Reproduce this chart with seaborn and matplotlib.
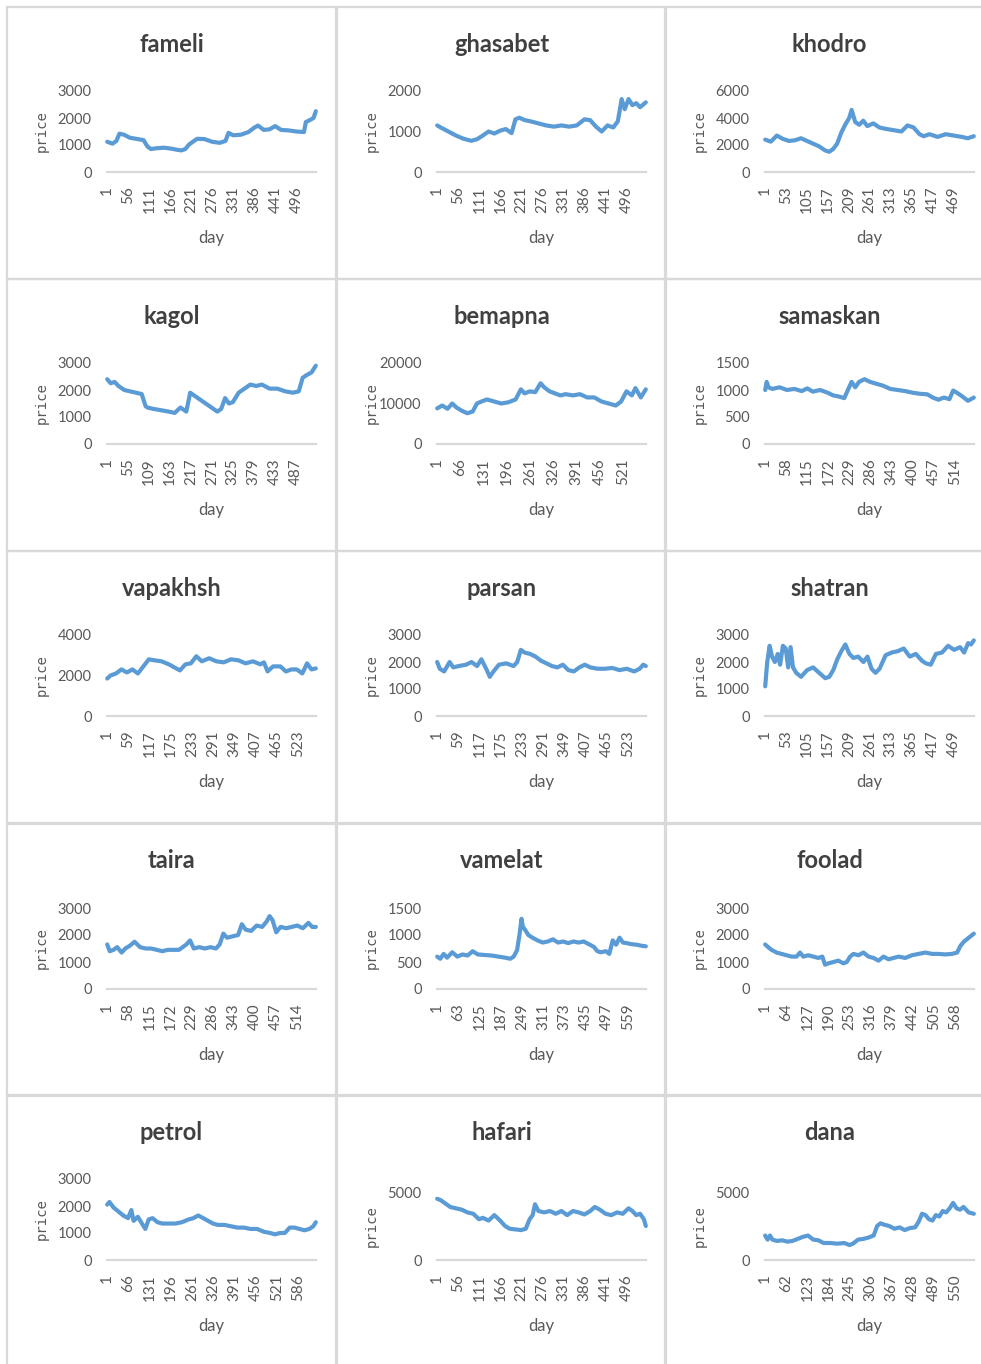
import numpy as np
import pandas as pd
import matplotlib
matplotlib.use("Agg")
import matplotlib.pyplot as plt
import seaborn as sns
from matplotlib.patches import Rectangle

sns.set_style("white")
plt.rcParams['font.family'] = ['Lato', 'DejaVu Sans']

# ---------------- data ----------------
names = ["fameli", "ghasabet", "khodro", "kagol", "bemapna", "samaskan",
         "vapakhsh", "parsan", "shatran", "taira", "vamelat", "foolad",
         "petrol", "hafari", "dana"]
n_days = [546, 545, 520, 539, 584, 566, 572, 572, 519, 565, 612, 625, 640, 545, 605]
x_step = [55, 55, 52, 54, 65, 57, 58, 58, 52, 57, 62, 63, 65, 55, 61]
y_max = [3000, 2000, 6000, 3000, 20000, 1500, 4000, 3000, 3000, 3000, 1500, 3000, 3000, 5000, 5000]
y_step = [1000, 1000, 2000, 1000, 10000, 500, 2000, 1000, 1000, 1000, 500, 1000, 1000, 5000, 5000]

fameli_day = [1, 15, 25, 33, 45, 60, 80, 96, 106, 115, 130, 150, 170, 185, 195, 205, 215, 236, 255, 275,
              295, 310, 318, 330, 350, 370, 385, 395, 410, 425, 440, 455, 475, 495, 515, 520, 530, 540, 546]
fameli_price = [1120, 1050, 1150, 1420, 1380, 1270, 1220, 1180, 950, 850, 880, 900, 860, 820, 800, 850, 1020,
                1230, 1220, 1120, 1080, 1150, 1450, 1360, 1380, 1480, 1640, 1720, 1560, 1580, 1700, 1560,
                1540, 1500, 1480, 1850, 1920, 2000, 2250]

ghasabet_day = [1, 10, 30, 50, 70, 90, 105, 120, 135, 150, 165, 180, 195, 205, 215, 230, 245, 265, 285,
                305, 325, 345, 365, 385, 400, 415, 430, 445, 460, 472, 482, 490, 500, 510, 520, 530, 545]
ghasabet_price = [1150, 1100, 1000, 900, 820, 770, 810, 900, 1000, 950, 1020, 1060, 960, 1300, 1340, 1280,
                  1250, 1200, 1150, 1120, 1150, 1120, 1150, 1300, 1280, 1120, 1000, 1150, 1100, 1250, 1800,
                  1550, 1800, 1650, 1700, 1600, 1720]

khodro_day = [1, 15, 30, 45, 60, 75, 90, 105, 120, 135, 150, 160, 170, 180, 190, 200, 210, 216, 225, 235,
              245, 255, 270, 285, 300, 320, 340, 355, 370, 385, 395, 410, 430, 450, 470, 490, 505, 520]
khodro_price = [2400, 2250, 2700, 2450, 2300, 2350, 2500, 2300, 2100, 1900, 1600, 1500, 1700, 2100, 2900,
                3500, 4000, 4600, 3700, 3500, 3800, 3400, 3600, 3300, 3200, 3100, 3000, 3450, 3300, 2800,
                2650, 2800, 2600, 2800, 2700, 2600, 2500, 2650]

kagol_day = [1, 10, 20, 30, 45, 60, 75, 90, 100, 105, 120, 140, 160, 175, 190, 205, 215, 225, 240, 255,
             270, 285, 295, 305, 315, 325, 340, 355, 370, 385, 400, 420, 440, 460, 480, 495, 505, 515, 528, 539]
kagol_price = [2400, 2250, 2300, 2150, 2000, 1950, 1900, 1850, 1400, 1350, 1300, 1250, 1200, 1150, 1350,
               1200, 1900, 1800, 1650, 1500, 1350, 1200, 1300, 1700, 1500, 1550, 1900, 2050, 2200, 2150,
               2200, 2050, 2050, 1950, 1900, 1950, 2450, 2550, 2650, 2900]

bemapna_day = [1, 15, 30, 43, 55, 70, 85, 100, 112, 125, 140, 160, 180, 200, 220, 235, 245, 260, 275, 290,
               300, 315, 330, 345, 360, 380, 400, 420, 440, 460, 480, 500, 515, 530, 545, 555, 570, 584]
bemapna_price = [8800, 9500, 8700, 10000, 9000, 8200, 7600, 8000, 10000, 10500, 11000, 10500, 10000, 10300,
                 11000, 13500, 12500, 13000, 12800, 15000, 14000, 13000, 12500, 12000, 12300, 12000, 12300,
                 11500, 11500, 10500, 10000, 9500, 10500, 13000, 12000, 13800, 11500, 13500]

samaskan_day = [1, 5, 10, 20, 40, 60, 80, 100, 115, 130, 150, 170, 185, 200, 215, 225, 235, 245, 255, 270,
                285, 300, 320, 340, 360, 380, 400, 420, 440, 455, 470, 485, 500, 510, 520, 535, 550, 566]
samaskan_price = [1000, 1150, 1050, 1020, 1050, 1000, 1020, 980, 1030, 970, 1000, 950, 900, 880, 850, 1000,
                  1150, 1050, 1150, 1200, 1150, 1120, 1080, 1020, 1000, 980, 950, 930, 920, 860, 820, 860,
                  830, 990, 950, 880, 800, 860]

vapakhsh_day = [1, 10, 25, 40, 55, 70, 85, 100, 115, 130, 150, 170, 185, 200, 215, 230, 245, 260, 280, 300,
                320, 340, 360, 380, 400, 420, 430, 440, 455, 475, 490, 505, 520, 535, 548, 560, 572]
vapakhsh_price = [1850, 2000, 2100, 2300, 2150, 2300, 2100, 2450, 2800, 2750, 2700, 2550, 2400, 2250, 2550,
                  2600, 2950, 2700, 2850, 2700, 2650, 2800, 2750, 2600, 2700, 2550, 2650, 2200, 2450, 2450,
                  2200, 2300, 2300, 2100, 2600, 2300, 2350]

parsan_day = [1, 8, 20, 35, 45, 60, 80, 95, 110, 122, 135, 145, 155, 170, 190, 210, 220, 230, 240, 255,
              270, 285, 300, 315, 330, 345, 360, 375, 390, 405, 420, 440, 460, 480, 500, 520, 540, 555, 565, 572]
parsan_price = [2000, 1750, 1650, 2000, 1800, 1850, 1900, 2000, 1850, 2100, 1750, 1450, 1650, 1900, 1950,
                1850, 2000, 2450, 2350, 2300, 2200, 2050, 1950, 1850, 1800, 1900, 1700, 1650, 1800, 1900,
                1800, 1750, 1750, 1780, 1700, 1750, 1650, 1750, 1900, 1850]

shatran_day = [1, 6, 12, 18, 25, 32, 38, 45, 52, 58, 64, 70, 78, 90, 105, 120, 135, 150, 160, 170, 180,
               190, 200, 210, 220, 232, 245, 255, 265, 275, 285, 300, 315, 330, 345, 360, 375, 390, 400,
               412, 425, 440, 455, 470, 485, 495, 505, 512, 519]
shatran_price = [1100, 2000, 2600, 2200, 2000, 2300, 1900, 2600, 2500, 1800, 2550, 1800, 1600, 1450, 1700,
                 1800, 1600, 1400, 1450, 1700, 2100, 2400, 2650, 2300, 2150, 2200, 2000, 2200, 1750, 1600,
                 1750, 2250, 2350, 2400, 2500, 2200, 2300, 2050, 1950, 1900, 2300, 2350, 2600, 2450, 2550,
                 2350, 2700, 2650, 2800]

taira_day = [1, 8, 18, 28, 40, 50, 62, 75, 90, 105, 120, 135, 150, 165, 180, 195, 205, 215, 225, 235, 250,
             265, 280, 295, 305, 315, 325, 340, 355, 365, 375, 390, 405, 420, 432, 440, 448, 458, 470, 485,
             500, 515, 530, 545, 555, 565]
taira_price = [1650, 1400, 1450, 1550, 1350, 1500, 1600, 1750, 1550, 1500, 1500, 1450, 1400, 1450, 1450,
               1450, 1550, 1650, 1800, 1500, 1550, 1500, 1550, 1500, 1650, 2050, 1900, 1950, 2000, 2400,
               2200, 2150, 2350, 2300, 2500, 2700, 2550, 2100, 2300, 2250, 2300, 2350, 2250, 2450, 2300, 2300]

vamelat_day = [1, 10, 20, 30, 45, 60, 75, 90, 105, 120, 140, 160, 180, 200, 215, 225, 235, 242, 248, 252,
               258, 268, 280, 295, 310, 325, 340, 355, 370, 385, 400, 415, 430, 445, 460, 470, 480, 495,
               505, 515, 525, 535, 545, 555, 570, 585, 600, 612]
vamelat_price = [600, 560, 650, 580, 680, 600, 640, 620, 700, 640, 630, 620, 600, 580, 560, 600, 720, 1000,
                 1300, 1150, 1100, 1000, 950, 900, 860, 880, 920, 860, 880, 850, 880, 860, 880, 830, 780,
                 700, 680, 700, 650, 900, 820, 950, 860, 850, 830, 820, 800, 790]

foolad_day = [1, 10, 20, 35, 50, 65, 80, 95, 105, 115, 130, 145, 160, 172, 180, 190, 205, 220, 235, 245,
              255, 265, 280, 295, 310, 325, 340, 355, 370, 385, 400, 420, 440, 460, 480, 500, 520, 540, 560,
              575, 585, 595, 605, 615, 625]
foolad_price = [1650, 1550, 1450, 1350, 1300, 1250, 1200, 1200, 1350, 1200, 1250, 1200, 1150, 1200, 900,
                950, 1000, 1050, 950, 1000, 1200, 1300, 1250, 1350, 1200, 1150, 1050, 1200, 1100, 1150,
                1200, 1150, 1250, 1300, 1350, 1300, 1300, 1280, 1300, 1350, 1600, 1750, 1850, 1950, 2050]

petrol_day = [1, 8, 20, 35, 50, 65, 75, 82, 95, 110, 118, 128, 140, 155, 170, 190, 210, 230, 250, 265,
              280, 295, 310, 325, 340, 360, 380, 400, 420, 440, 460, 480, 500, 515, 530, 545, 560, 575,
              590, 605, 620, 632, 640]
petrol_price = [2050, 2150, 1950, 1800, 1650, 1550, 1850, 1450, 1600, 1300, 1150, 1500, 1550, 1400, 1350,
                1350, 1350, 1400, 1500, 1550, 1650, 1550, 1450, 1350, 1300, 1300, 1250, 1200, 1200, 1150,
                1150, 1050, 1000, 950, 1000, 1000, 1200, 1200, 1150, 1100, 1150, 1250, 1400]

hafari_day = [1, 10, 20, 35, 50, 65, 80, 95, 110, 120, 135, 150, 165, 178, 190, 205, 220, 232, 242, 250,
              256, 265, 280, 295, 310, 325, 340, 355, 370, 385, 400, 412, 425, 440, 455, 470, 485, 500,
              510, 520, 530, 540, 545]
hafari_price = [4500, 4400, 4200, 3900, 3800, 3700, 3500, 3400, 3000, 3100, 2900, 3300, 2900, 2500, 2300,
                2250, 2200, 2300, 3000, 3300, 4100, 3600, 3500, 3600, 3400, 3600, 3300, 3600, 3500, 3350,
                3600, 3900, 3700, 3400, 3300, 3500, 3400, 3800, 3600, 3300, 3400, 3000, 2500]

dana_day = [1, 8, 15, 22, 35, 50, 65, 80, 95, 110, 125, 140, 155, 170, 190, 210, 230, 245, 255, 270, 285,
            300, 315, 325, 335, 345, 360, 375, 390, 405, 420, 435, 445, 455, 465, 475, 485, 495, 505, 515,
            525, 535, 545, 555, 565, 575, 590, 605]
dana_price = [1800, 1500, 1800, 1500, 1400, 1450, 1350, 1400, 1550, 1700, 1800, 1500, 1450, 1250, 1250,
              1200, 1250, 1100, 1200, 1500, 1550, 1650, 1800, 2500, 2700, 2600, 2500, 2300, 2400, 2200,
              2350, 2400, 2800, 3400, 3300, 3000, 2900, 3300, 3200, 3600, 3500, 3800, 4200, 3800, 3700,
              3900, 3500, 3400]

series_days = [fameli_day, ghasabet_day, khodro_day, kagol_day, bemapna_day, samaskan_day,
               vapakhsh_day, parsan_day, shatran_day, taira_day, vamelat_day, foolad_day,
               petrol_day, hafari_day, dana_day]
series_price = [fameli_price, ghasabet_price, khodro_price, kagol_price, bemapna_price, samaskan_price,
                vapakhsh_price, parsan_price, shatran_price, taira_price, vamelat_price, foolad_price,
                petrol_price, hafari_price, dana_price]

# ---------------- layout ----------------
W, H = 981, 1364
fig = plt.figure(figsize=(W / 100, H / 100), dpi=100)
fig.patch.set_facecolor("white")

col_x = [7, 337, 665]
row_y = [7, 279, 551, 824, 1095]
panel_w, panel_h = 329, 272
line_color = "#5b9bd5"
grey_txt = "#595959"
title_col = "#404040"
border_col = "#d9d9d9"

for i, name in enumerate(names):
    r, c = divmod(i, 3)
    x0, y0 = col_x[c], row_y[r]
    # panel frame
    fig.add_artist(Rectangle((x0 / W, 1 - (y0 + panel_h) / H), panel_w / W, panel_h / H,
                             transform=fig.transFigure, fill=False, ec=border_col, lw=1.6))
    top_off = 97 if y_max[i] == 5000 else 84
    bot_off = 165
    left, right = x0 + 100, x0 + 309
    ax = fig.add_axes([left / W, 1 - (y0 + bot_off) / H, (right - left) / W,
                       (bot_off - top_off) / H])
    df = pd.DataFrame({"day": series_days[i], "price": series_price[i]})
    sns.lineplot(data=df, x="day", y="price", ax=ax, color=line_color, lw=3.0,
                 estimator=None, sort=False)
    for ln in ax.lines:
        ln.set_clip_on(False)
        ln.set_solid_joinstyle("round")
    N = n_days[i]
    ax.set_xlim(0.5, N + 0.5)
    ax.set_ylim(0, y_max[i])
    ax.set_yticks(np.arange(0, y_max[i] + 1, y_step[i]))
    ax.set_yticklabels([str(v) for v in np.arange(0, y_max[i] + 1, y_step[i])],
                       fontsize=10.5, color=grey_txt)
    xt = list(range(1, N + 1, x_step[i]))
    ax.set_xticks(xt)
    ax.set_xticklabels([str(v) for v in xt], rotation=90, fontsize=11, color=grey_txt,
                       va="top", ha="center")
    ax.tick_params(axis="x", length=0, pad=10)
    ax.tick_params(axis="y", length=0, pad=11)
    for s in ["top", "right", "left"]:
        ax.spines[s].set_visible(False)
    ax.spines["bottom"].set_color(border_col)
    ax.spines["bottom"].set_linewidth(1.6)
    ax.set_xlabel("")
    ax.set_ylabel("")
    ax.grid(False)
    ax.patch.set_alpha(0)

    # title
    fig.text((x0 + panel_w / 2) / W, 1 - (y0 + 37) / H, name, ha="center", va="center",
             fontsize=17, fontweight="bold", color=title_col)
    # x label
    fig.text((left + right) / 2 / W, 1 - (y0 + 231) / H, "day", ha="center", va="center",
             fontsize=12, color=grey_txt)
    # y label
    fig.text((x0 + 35) / W, 1 - (y0 + (top_off + bot_off) / 2) / H, "price", ha="center",
             va="center", rotation=90, fontsize=10, color=grey_txt, family="DejaVu Sans Mono")

fig.savefig("out.png", dpi=100, facecolor="white")
